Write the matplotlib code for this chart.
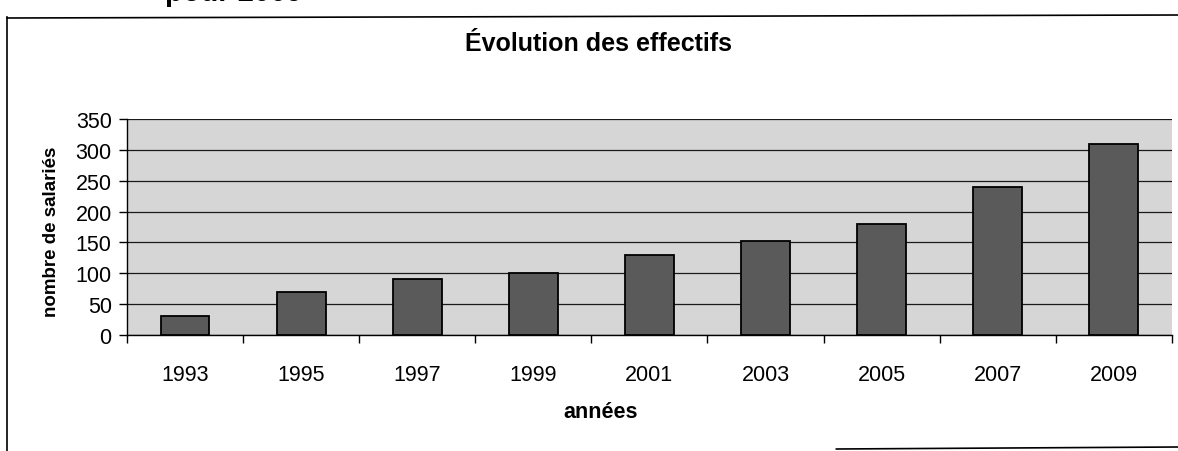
import matplotlib.pyplot as plt
import numpy as np
from matplotlib.lines import Line2D

# Data
years = ['1993', '1995', '1997', '1999', '2001', '2003', '2005', '2007', '2009']
salaries = [30, 70, 90, 100, 130, 152, 180, 240, 310]
y_ticks = [0, 50, 100, 150, 200, 250, 300, 350]

plt.rcParams['font.family'] = ['Liberation Sans', 'DejaVu Sans']

fig = plt.figure(figsize=(11.78, 4.52), dpi=100)
ax = fig.add_axes([0.1078, 0.2566, 0.887, 0.478])

x = np.arange(len(years))
ax.set_facecolor('#d6d6d6')
ax.bar(x, salaries, width=0.42, color='#5a5a5a', edgecolor='black', linewidth=1.3, zorder=3)

# Y axis
ax.set_ylim(0, 350)
ax.set_yticks(y_ticks)
ax.set_yticklabels([str(v) for v in y_ticks], fontsize=15.5)
ax.yaxis.grid(True, color='#1a1a1a', linewidth=0.9, zorder=1)
ax.set_axisbelow(True)
ax.tick_params(axis='y', direction='out', length=6, width=1, pad=5)

# X axis: labels centred, ticks between categories
ax.set_xlim(-0.5, len(years) - 0.5)
ax.set_xticks(x)
ax.set_xticklabels(years, fontsize=15.5)
ax.tick_params(axis='x', which='major', length=0, pad=21)
ax.set_xticks(np.arange(len(years) + 1) - 0.5, minor=True)
ax.tick_params(axis='x', which='minor', direction='out', length=6, width=1)

for side in ['top', 'right']:
    ax.spines[side].set_visible(False)
ax.spines['left'].set_linewidth(1)
ax.spines['bottom'].set_linewidth(1)

ax.set_ylabel('nombre de salariés', fontsize=13.5, fontweight='bold')
ax.set_xlabel('années', fontsize=15.5, fontweight='bold')
ax.xaxis.set_label_coords(0.453, -0.305)
ax.yaxis.set_label_coords(-0.064, 0.48)

fig.text(0.508, 0.903, 'Évolution des effectifs', fontsize=18, fontweight='bold',
         ha='center', va='center')

# Cropped heading at the very top of the scan
fig.text(0.14, 1 - 1.0 / 452, 'pour 2009', fontsize=21, fontweight='bold',
         ha='left', va='baseline')

# Outer frame of the scanned chart
fig.add_artist(Line2D([0.006, 0.006], [0.0, 1 - 18 / 452], color='black', lw=1.2))
fig.add_artist(Line2D([0.006, 1.0], [1 - 19 / 452, 1 - 16 / 452], color='black', lw=1.2))
fig.add_artist(Line2D([0.71, 1.0], [1 - 450 / 452, 1 - 448 / 452], color='black', lw=1.2))

fig.savefig('out.png', dpi=100)
